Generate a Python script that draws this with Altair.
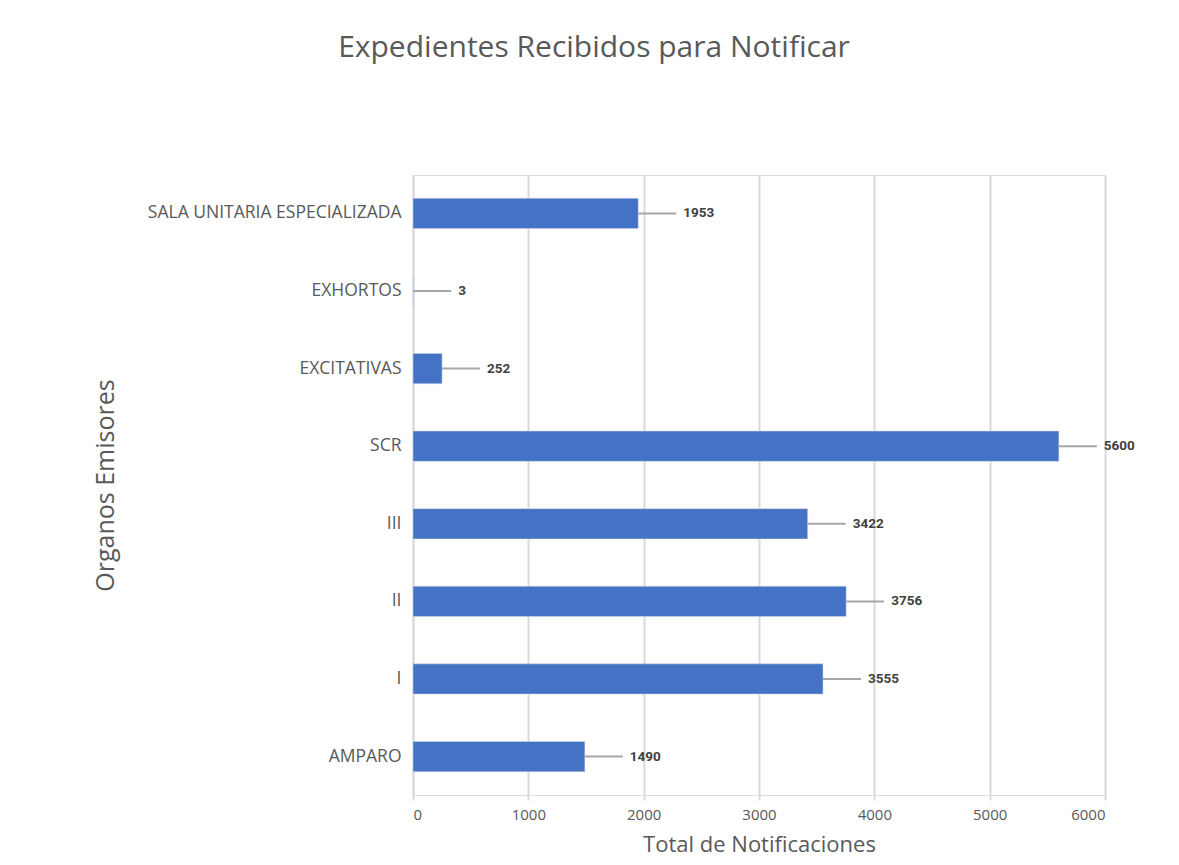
import altair as alt
import pandas as pd

categories = ["SALA UNITARIA ESPECIALIZADA", "EXHORTOS", "EXCITATIVAS", "SCR",
              "III", "II", "I", "AMPARO"]
values = [1953, 3, 252, 5600, 3422, 3756, 3555, 1490]
x_ticks = [0, 1000, 2000, 3000, 4000, 5000, 6000]

df = pd.DataFrame({"organo": categories, "total": values})

LABEL_FONT = "Open Sans"
GRAY = "#595959"

y_enc = alt.Y("organo:N", sort=categories,
              scale=alt.Scale(paddingInner=0.61, paddingOuter=0.3),
              axis=alt.Axis(title="Organos Emisores", titleFont=LABEL_FONT,
                            titleFontSize=25, titleFontWeight="normal",
                            titleColor=GRAY, titleX=-308, titleY=310,
                            titleAngle=270, titleBaseline="middle",
                            labelFont=LABEL_FONT, labelFontSize=17.5,
                            labelColor=GRAY, labelPadding=12, ticks=False,
                            domain=True, domainColor="#D9D9D9", domainWidth=2,
                            labelLimit=400))

x_scale = alt.Scale(domain=[0, 6000], nice=False)

bars = alt.Chart(df).mark_bar(color="#4472C4", stroke="#D6DCE5", strokeWidth=0.5).encode(
    x=alt.X("total:Q", scale=x_scale,
            axis=alt.Axis(values=x_ticks, format="d", title="Total de Notificaciones",
                          titleFont=LABEL_FONT, titleFontSize=22,
                          titleFontWeight="normal", titleColor=GRAY,
                          titlePadding=12,
                          labelFont=LABEL_FONT, labelFontSize=15,
                          labelColor=GRAY, labelPadding=7,
                          grid=True, gridColor="#D9D9D9", gridWidth=2,
                          domain=False, ticks=True, tickColor="#D9D9D9",
                          tickWidth=2, tickSize=5)),
    y=y_enc,
)

leaders = alt.Chart(df).mark_rule(color="#A6A6A6", strokeWidth=2, x2Offset=38).encode(
    x=alt.X("total:Q", scale=x_scale),
    x2="total:Q",
    y=alt.Y("organo:N", sort=categories),
)

labels = alt.Chart(df).mark_text(align="left", baseline="middle", dx=45,
                                 font="Roboto", fontSize=13.5,
                                 fontWeight="bold", color="#404040").encode(
    x=alt.X("total:Q", scale=x_scale),
    y=alt.Y("organo:N", sort=categories),
    text="total:Q",
)

chart = alt.layer(bars, leaders, labels).properties(
    width=692, height=620,
    padding={"left": 405, "top": 167, "right": 60, "bottom": 62},
    autosize=alt.AutoSizeParams(type="none"),
    title=alt.TitleParams("Expedientes Recibidos para Notificar",
                          font=LABEL_FONT, fontSize=30, fontWeight="normal",
                          color=GRAY, anchor="middle", dx=-165, offset=112),
).configure_view(stroke=None).configure(background="white")

chart.save("out.html", embed_options={"renderer": "svg", "actions": False})
